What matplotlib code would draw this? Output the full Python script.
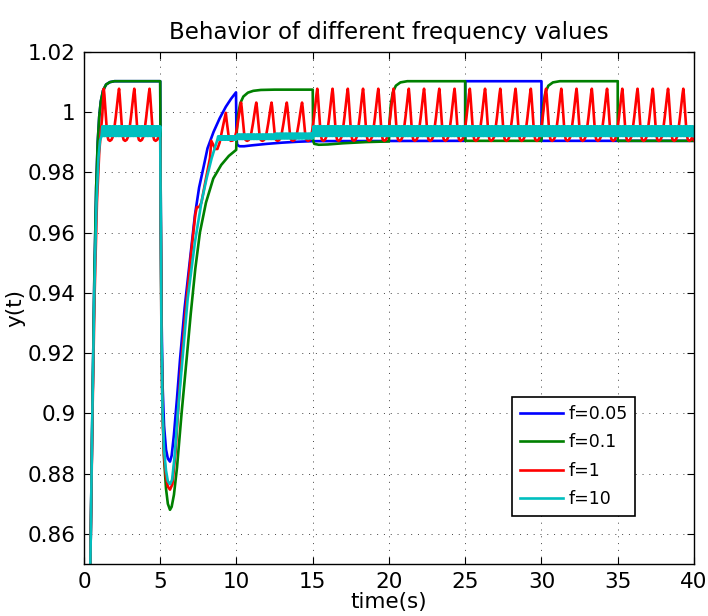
import numpy as np
import matplotlib
matplotlib.use("Agg")
import matplotlib.pyplot as plt

# ---- f = 0.05 (blue) ----
blue_t = [0.3, 0.42, 0.55, 0.68, 0.8, 0.9, 1.0, 1.1, 1.25, 1.45, 1.7, 2.0, 5.0,
          5.03, 5.08, 5.15, 5.25, 5.38, 5.5, 5.64, 5.75, 5.9, 6.1, 6.3, 6.6, 6.95,
          7.28, 7.55, 7.85, 8.1, 8.5, 8.9, 9.3, 9.65, 9.97,
          10.0, 10.05, 10.2, 10.5, 11.0, 12.0, 13.0, 14.0, 15.0,
          25.0, 25.0, 30.0, 30.0, 40.0]
blue_y = [0.80, 0.85, 0.90, 0.945, 0.975, 0.99, 0.9985, 1.0035, 1.0072, 1.0092, 1.0100, 1.0103, 1.0103,
          0.975, 0.935, 0.910, 0.896, 0.888, 0.885, 0.884, 0.886, 0.893, 0.905, 0.918, 0.935, 0.951,
          0.966, 0.975, 0.982, 0.988, 0.9935, 0.998, 1.0018, 1.0045, 1.0066,
          0.9915, 0.9892, 0.9887, 0.9887, 0.9890, 0.9895, 0.9899, 0.9902, 0.9904,
          0.9905, 1.0103, 1.0103, 0.9905, 0.9905]

# ---- f = 0.1 (green) ----
green_t = [0.3, 0.42, 0.55, 0.68, 0.8, 0.9, 1.0, 1.1, 1.25, 1.45, 1.7, 2.0, 5.0,
           5.03, 5.08, 5.15, 5.25, 5.38, 5.5, 5.64, 5.75, 5.9, 6.1, 6.4, 6.73, 7.0,
           7.3, 7.6, 8.0, 8.48, 9.0, 9.5, 9.98,
           10.02, 10.1, 10.25, 10.45, 10.75, 11.1, 11.6, 12.5, 15.0,
           15.03, 15.1, 15.4, 16.0, 17.0, 18.5, 20.0,
           20.04, 20.12, 20.25, 20.45, 20.75, 21.2, 25.0,
           25.0, 30.0,
           30.04, 30.12, 30.25, 30.45, 30.75, 31.2, 35.0,
           35.0, 40.0]
green_y = [0.80, 0.85, 0.90, 0.945, 0.975, 0.99, 0.9985, 1.0035, 1.0072, 1.0092, 1.0100, 1.0103, 1.0103,
           0.975, 0.930, 0.902, 0.885, 0.875, 0.870, 0.868, 0.869, 0.873, 0.882, 0.900, 0.918, 0.933,
           0.948, 0.960, 0.970, 0.978, 0.9825, 0.9855, 0.9875,
           0.9935, 0.999, 1.003, 1.0052, 1.0065, 1.0071, 1.0074, 1.0075, 1.0075,
           0.9905, 0.9895, 0.9892, 0.9893, 0.9897, 0.9901, 0.9903,
           0.997, 1.0025, 1.0065, 1.0088, 1.0099, 1.0103, 1.0103,
           0.9905, 0.9905,
           0.997, 1.0025, 1.0065, 1.0088, 1.0099, 1.0103, 1.0103,
           0.9905, 0.9905]

# ---- f = 1 (red): start-up, dip after t=5, and one sawtooth period ----
red_rise_t = [0.3, 0.42, 0.56, 0.7, 0.85, 1.0, 1.1, 1.2]
red_rise_y = [0.80, 0.85, 0.90, 0.94, 0.97, 0.9865, 0.993, 0.999]
red_dip_t = [5.0, 5.03, 5.08, 5.15, 5.25, 5.38, 5.5, 5.64, 5.8, 6.0, 6.2, 6.4, 6.7, 7.0,
             7.3, 7.4, 7.55, 7.7, 8.0, 8.26, 8.35, 8.45, 8.6, 8.75, 8.9, 9.1, 9.3, 9.36,
             9.5, 9.62, 9.75]
red_dip_y = [0.9915, 0.965, 0.925, 0.900, 0.886, 0.879, 0.8757, 0.8747, 0.8765, 0.887, 0.903, 0.918, 0.936, 0.952,
             0.966, 0.9685, 0.9685, 0.970, 0.978, 0.9847, 0.9905, 0.9895, 0.9878, 0.9878, 0.990, 0.995, 0.9998, 0.997,
             0.9915, 0.9905, 0.9906]
red_base = 0.9905
red_peaks_a = [1.3, 2.3, 3.3, 4.3]
red_peaks_b = [10.3, 11.3, 12.3, 13.3, 14.3]
red_peaks_c = [15.3, 16.3, 17.3, 18.3, 19.3, 20.3, 21.3, 22.3, 23.3, 24.3, 25.3, 26.3, 27.3,
               28.3, 29.3, 30.3, 31.3, 32.3, 33.3, 34.3, 35.3, 36.3, 37.3, 38.3, 39.3]
red_top_a, red_top_b, red_top_c = 1.0078, 1.0032, 1.0078
cyc_dt = [-0.42, -0.32, -0.22, -0.12, -0.05, 0.0, 0.04, 0.14, 0.22, 0.30, 0.40, 0.50, 0.58]
cyc_fr = [0.07, 0.22, 0.45, 0.72, 0.90, 1.0, 0.88, 0.45, 0.12, 0.02, 0.0, 0.02, 0.07]

# ---- f = 10 (cyan): start-up, dip, and 10 Hz ripple bands (start, end, low, high) ----
cyan_rise_t = [0.3, 0.42, 0.55, 0.68, 0.82, 0.95, 1.05]
cyan_rise_y = [0.80, 0.85, 0.90, 0.94, 0.97, 0.985, 0.9905]
cyan_dip_t = [5.03, 5.08, 5.15, 5.25, 5.38, 5.5, 5.64, 5.78, 5.95, 6.15, 6.46, 6.8, 7.28,
              7.7, 8.04, 8.37, 8.6]
cyan_dip_y = [0.966, 0.926, 0.901, 0.888, 0.881, 0.8775, 0.8765, 0.878, 0.886, 0.900, 0.918, 0.938, 0.957,
              0.970, 0.978, 0.9847, 0.9885]
band_t0 = [1.15, 8.75, 10.0, 12.5, 15.0]
band_t1 = [5.0, 10.0, 12.5, 15.0, 40.0]
band_lo = [0.9921, 0.9909, 0.9911, 0.9913, 0.9921]
band_hi = [0.9953, 0.9920, 0.9926, 0.9929, 0.9953]

xticks = [0, 5, 10, 15, 20, 25, 30, 35, 40]
yticks = [0.86, 0.88, 0.90, 0.92, 0.94, 0.96, 0.98, 1.00, 1.02]
ylabels = ["0.86", "0.88", "0.9", "0.92", "0.94", "0.96", "0.98", "1", "1.02"]


def saw(peaks, top, skip_first_rise=False):
    ts, ys = [], []
    for k, p in enumerate(peaks):
        for dt, fr in zip(cyc_dt, cyc_fr):
            if skip_first_rise and k == 0 and dt < 0:
                continue
            ts.append(p + dt)
            ys.append(red_base + fr * (top - red_base))
    return ts, ys


def ripple(t0, t1, lo, hi, step=0.05):
    n = int(round((t1 - t0) / step))
    ts = [t0 + i * step for i in range(n + 1)]
    ys = [lo if i % 2 == 0 else hi for i in range(n + 1)]
    return ts, ys


red_t, red_y = list(red_rise_t), list(red_rise_y)
a_t, a_y = saw(red_peaks_a, red_top_a, skip_first_rise=True)
b_t, b_y = saw(red_peaks_b, red_top_b)
c_t, c_y = saw(red_peaks_c, red_top_c)
red_t += a_t + red_dip_t + b_t + c_t + [40.0]
red_y += a_y + red_dip_y + b_y + c_y + [0.9907]

cyan_t, cyan_y = list(cyan_rise_t), list(cyan_rise_y)
for i, (t0, t1, lo, hi) in enumerate(zip(band_t0, band_t1, band_lo, band_hi)):
    bt, by = ripple(t0, t1, lo, hi)
    cyan_t += bt
    cyan_y += by
    if i == 0:
        cyan_t += cyan_dip_t
        cyan_y += cyan_dip_y

# ---- plot ----
fig = plt.figure(figsize=(7.08, 6.16), dpi=100)
ax = fig.add_axes([0.1186, 0.0844, 0.8616, 0.8312])
lw = 1.9
ax.plot(blue_t, blue_y, color=(0, 0, 1), lw=lw, label="f=0.05")
ax.plot(green_t, green_y, color=(0, 0.5, 0), lw=lw, label="f=0.1")
ax.plot(red_t, red_y, color=(1, 0, 0), lw=lw, label="f=1")
ax.plot(cyan_t, cyan_y, color=(0, 0.75, 0.75), lw=lw, label="f=10")

ax.set_xlim(0, 40)
ax.set_ylim(0.85, 1.02)
ax.set_xticks(xticks)
ax.set_yticks(yticks)
ax.set_yticklabels(ylabels)
ax.tick_params(direction="in", top=True, right=True, length=5, width=0.8,
               labelsize=15.5, pad=6)
ax.grid(True, color="#444444", lw=0.7, linestyle=(0, (1, 6)))
for s in ax.spines.values():
    s.set_linewidth(1.0)

ax.set_title("Behavior of different frequency values", fontsize=16.5, pad=9)
ax.set_xlabel("time(s)", fontsize=15.5, labelpad=0)
ax.set_ylabel("y(t)", fontsize=15.5, labelpad=2)

leg = ax.legend(loc="lower left", bbox_to_anchor=(0.7016, 0.094), borderaxespad=0,
                fontsize=12.5, handlelength=2.5, handletextpad=0.3, labelspacing=0.6,
                borderpad=0.45, fancybox=False, framealpha=1, edgecolor="black")
leg.get_frame().set_linewidth(1.2)

fig.savefig("out.png", dpi=100)
